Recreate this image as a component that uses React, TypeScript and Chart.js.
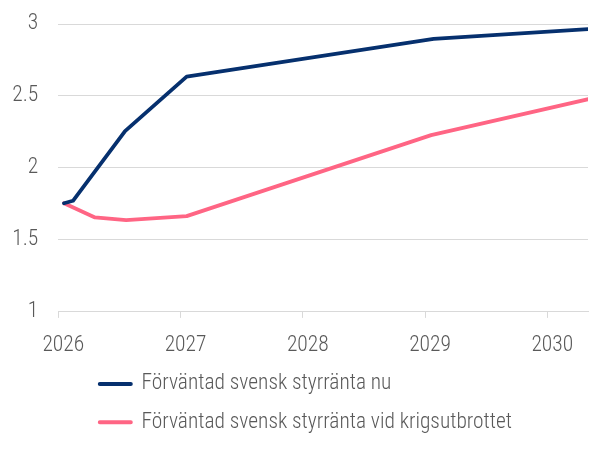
import React, { useEffect, useRef } from "react";
import { Chart, registerables } from "chart.js";

Chart.register(...registerables);

const seriesNames = [
  "Förväntad svensk styrränta nu",
  "Förväntad svensk styrränta vid krigsutbrottet",
];
const nuYears = [2026.047, 2026.12, 2026.546, 2027.05, 2029.07, 2030.34];
const nuValues = [1.755, 1.772, 2.256, 2.634, 2.896, 2.965];
const krigYears = [2026.047, 2026.3, 2026.555, 2027.05, 2029.05, 2030.34];
const krigValues = [1.755, 1.656, 1.637, 1.665, 2.228, 2.479];
const xTickYears = [2026, 2027, 2028, 2029, 2030];
const yTicks = [1, 1.5, 2, 2.5, 3];

const FONT = "'Roboto Condensed', 'DejaVu Sans Condensed', sans-serif";
const BLUE = "#06306e";
const PINK = "#ff6584";
const TEXT = "#595959";

const legendShift = {
  id: "legendShift",
  afterLayout(chart: any) {
    const lg = chart.legend;
    if (lg) {
      lg.left += 83;
      lg.right += 83;
    }
  },
};

export default function App() {
  const ref = useRef<HTMLCanvasElement | null>(null);
  useEffect(() => {
    document.body.style.margin = "0";
    const ctx = ref.current!;
    const chart = new Chart(ctx, {
      type: "line",
      data: {
        datasets: [
          {
            label: seriesNames[0],
            data: nuYears.map((x, i) => ({ x, y: nuValues[i] })),
            borderColor: BLUE,
            backgroundColor: BLUE,
            borderWidth: 3.8,
            pointRadius: 0,
            pointHoverRadius: 0,
            tension: 0,
            borderJoinStyle: "round",
            borderCapStyle: "round",
          },
          {
            label: seriesNames[1],
            data: krigYears.map((x, i) => ({ x, y: krigValues[i] })),
            borderColor: PINK,
            backgroundColor: PINK,
            borderWidth: 3.8,
            pointRadius: 0,
            pointHoverRadius: 0,
            tension: 0,
            borderJoinStyle: "round",
            borderCapStyle: "round",
          },
        ],
      },
      options: {
        animation: false,
        responsive: false,
        maintainAspectRatio: false,
        events: [],
        layout: { padding: { left: 0, right: 21, top: 24, bottom: 9.1 } },
        plugins: {
          tooltip: { enabled: false },
          legend: {
            position: "bottom",
            align: "start",
            labels: {
              font: { family: FONT, size: 21.4, weight: 300 },
              color: TEXT,
              boxWidth: 31,
              boxHeight: 0,
              padding: 16.8,
              generateLabels: (c: any) =>
                c.data.datasets.map((d: any, i: number) => ({
                  text: d.label,
                  fillStyle: d.borderColor,
                  strokeStyle: d.borderColor,
                  lineWidth: 4,
                  lineCap: "round",
                  lineJoin: "round",
                  fontColor: TEXT,
                  datasetIndex: i,
                  hidden: false,
                })),
            },
          },
        },
        scales: {
          x: {
            type: "linear",
            min: 2026,
            max: 2030.333,
            afterBuildTicks: (axis: any) => {
              axis.ticks = xTickYears.map((v) => ({ value: v }));
            },
            afterFit: (axis: any) => {
              axis.height = 44.6;
              axis.paddingLeft = 0;
              axis.paddingRight = 0;
            },
            ticks: {
              callback: (v: any) => String(v),
              font: { family: FONT, size: 21.5, weight: 300 },
              color: TEXT,
              padding: 14.5,
              labelOffset: 5,
              maxRotation: 0,
            },
            grid: {
              drawOnChartArea: false,
              drawTicks: true,
              tickLength: 6,
              color: "#d9d9d9",
            },
            border: { display: true, color: "#d9d9d9" },
          },
          y: {
            min: 1,
            max: 3,
            afterBuildTicks: (axis: any) => {
              axis.ticks = yTicks.map((v) => ({ value: v }));
            },
            afterFit: (axis: any) => {
              axis.width = 58.3;
              axis.paddingTop = 0;
              axis.paddingBottom = 0;
            },
            ticks: {
              callback: (v: any) => String(v),
              font: { family: FONT, size: 21.5, weight: 300 },
              color: TEXT,
              padding: 20,
            },
            grid: { color: "#d9d9d9", drawTicks: false },
            border: { display: false },
          },
        },
      },
      plugins: [legendShift],
    });
    return () => chart.destroy();
  }, []);
  return (
    <div style={{ width: 609, height: 452, overflow: "hidden" }}>
      <canvas ref={ref} width={609} height={452} style={{ display: "block", width: 609, height: 452 }} />
    </div>
  );
}
